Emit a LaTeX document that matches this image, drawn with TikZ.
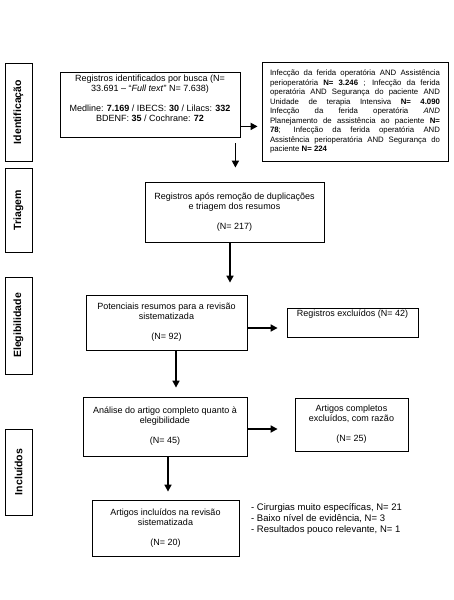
\documentclass[tikz,border=0pt]{standalone}
\usepackage{fontspec}
\setmainfont{Liberation Sans}
\usepackage{tikz}
\usetikzlibrary{arrows.meta, positioning, calc}

\begin{document}
\begin{tikzpicture}[x=1pt, y=-1pt,
        >={Triangle[length=7pt, width=7pt]},
        box/.style={draw, line width=0.8pt, inner sep=0pt, align=center,
                    font=\fontsize{9}{10}\selectfont},
        stage/.style={draw, line width=0.8pt, inner sep=0pt, minimum width=27pt,
                      font=\fontsize{10.5}{12}\selectfont\bfseries},
        arr/.style={->, line width=1.6pt},
    ]
    \useasboundingbox (0,0) rectangle (453,600);

    % ---- Stage labels (rotated) ----
    \node[stage, minimum height=98pt] (idlbl)  at (18.5, 112)   {\rotatebox{90}{Identificação}};
    \node[stage, minimum height=84pt] (trilbl) at (18.5, 210)   {\rotatebox{90}{Triagem}};
    \node[stage, minimum height=97pt] (elelbl) at (18.5, 325.5) {\rotatebox{90}{Elegibilidade}};
    \node[stage, minimum height=86pt] (inclbl) at (18.5, 472)   {\rotatebox{90}{Incluídos}};

    % ---- Identification ----
    \node[box, minimum width=180pt, minimum height=65pt] (busca) at (150, 104.5)
        {Registros identificados por busca (N=\\
         33.691 – “\textit{Full text}” N= 7.638)\\[10pt]
         Medline: \textbf{7.169} / IBECS: \textbf{30} / Lilacs: \textbf{332}\\
         BDENF: \textbf{35} / Cochrane: \textbf{72}\\[3pt]};

    \node[box, align=justify, text width=170pt, minimum width=186pt, minimum height=99pt,
          font=\fontsize{7.8}{9.5}\selectfont] (termos) at (355, 111.5)
        {\hyphenpenalty=10000 \tolerance=9999
         Infecção da ferida operatória AND Assistência\linebreak
         perioperatória \textbf{N= 3.246} ; Infecção da ferida\linebreak
         operatória AND Segurança do paciente AND\linebreak
         Unidade de terapia Intensiva \textbf{N= 4.090}\linebreak
         Infecção da ferida operatória \textit{AND}\linebreak
         Planejamento de assistência ao paciente \textbf{N=}\linebreak
         \textbf{78}; Infecção da ferida operatória AND\linebreak
         Assistência perioperatória AND Segurança do\linebreak
         paciente \textbf{N= 224}};

    % ---- Screening ----
    \node[box, minimum width=179pt, minimum height=60pt] (triagem) at (234.5, 212)
        {Registros após remoção de duplicações\\
         e triagem dos resumos\\[10pt]
         (N= 217)};

    % ---- Eligibility ----
    \node[box, minimum width=161pt, minimum height=55pt] (potenciais) at (166.5, 322.5)
        {Potenciais resumos para a revisão\\
         sistematizada\\[10pt]
         (N= 92)};

    \node[box, minimum width=131pt, minimum height=29pt] (excl) at (352.5, 322.5)
        {Registros excluídos (N= 42)\\[6pt]\strut};

    \node[box, minimum width=164pt, minimum height=59pt] (analise) at (165, 426.5)
        {Análise do artigo completo quanto à\\
         elegibilidade\\[10pt]
         (N= 45)};

    \node[box, minimum width=113pt, minimum height=53pt] (exclcomp) at (351.5, 424.5)
        {Artigos completos\\
         excluídos, com razão\\[10pt]
         (N= 25)};

    % ---- Included ----
    \node[box, minimum width=147pt, minimum height=56pt] (incl) at (165.5, 528)
        {Artigos incluídos na revisão\\
         sistematizada\\[10pt]
         (N= 20)};

    \node[align=left, anchor=north west, inner sep=0pt,
          font=\fontsize{9.5}{11}\selectfont] (motivos) at (251, 503)
        {- Cirurgias muito específicas, N= 21\\
         - Baixo nível de evidência, N= 3\\
         - Resultados pouco relevante, N= 1};

    % ---- Arrows ----
    \coordinate (bus2term) at ($(busca.south east)+(0,-11)$);
    \coordinate (bus2tri)  at ($(busca.south east)+(-5,6)$);
    \coordinate (tri2pot)  at ($(triagem.south)+(-4.5,0)$);
    \coordinate (pot2exc)  at ($(potenciais.east)+(0,5.5)$);
    \coordinate (pot2ana)  at ($(potenciais.south)+(9.5,0)$);
    \coordinate (ana2exc)  at ($(analise.east)+(0,2.5)$);
    \coordinate (ana2inc)  at ($(analise.south)+(3,0)$);

    \draw[arr, shorten >=4pt]  (bus2term) -- (bus2term -| termos.west);
    \draw[arr, shorten >=14pt] (bus2tri)  -- (bus2tri |- triagem.north);
    \draw[arr, shorten >=12pt] (tri2pot)  -- (tri2pot |- potenciais.north);
    \draw[arr, shorten >=9pt]  (pot2exc)  -- (pot2exc -| excl.west);
    \draw[arr, shorten >=9pt]  (pot2ana)  -- (pot2ana |- analise.north);
    \draw[arr, shorten >=17pt] (ana2exc)  -- (ana2exc -| exclcomp.west);
    \draw[arr, shorten >=8pt]  (ana2inc)  -- (ana2inc |- incl.north);

\end{tikzpicture}
\end{document}
